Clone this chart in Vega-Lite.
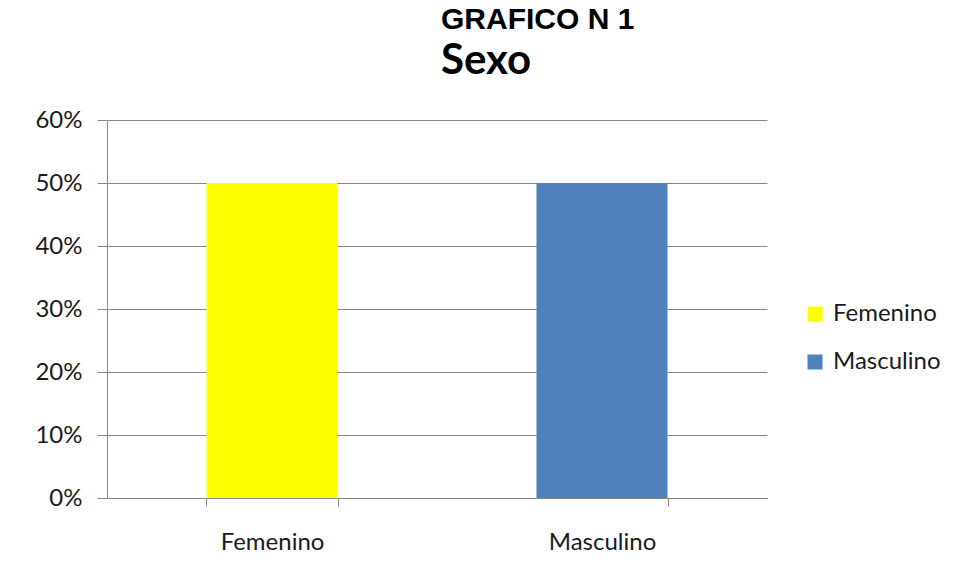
{
  "$schema": "https://vega.github.io/schema/vega-lite/v6.json",
  "width": 660,
  "height": 378,
  "autosize": {"type": "none"},
  "padding": {"left": 107, "top": 120, "right": 189, "bottom": 82},
  "background": "white",
  "title": {
    "text": "GRAFICO N 1",
    "subtitle": "Sexo",
    "anchor": "middle",
    "align": "left",
    "dx": 4,
    "offset": 26,
    "font": "Liberation Sans",
    "fontSize": 30,
    "fontWeight": "bold",
    "color": "#000000",
    "subtitleFont": "Lato",
    "subtitleFontSize": 42,
    "subtitleFontWeight": "bold",
    "subtitleColor": "#000000",
    "subtitlePadding": 6
  },
  "data": {
    "values": [
      {"sexo": "Femenino", "pct": 0.5},
      {"sexo": "Masculino", "pct": 0.5}
    ]
  },
  "mark": {"type": "bar"},
  "encoding": {
    "x": {
      "field": "sexo",
      "type": "nominal",
      "sort": ["Femenino", "Masculino"],
      "scale": {"paddingInner": 0.603, "paddingOuter": 0.3015},
      "axis": {
        "title": null,
        "labelAngle": 0,
        "labelFont": "Lato",
        "labelFontSize": 24,
        "labelColor": "#1a1a1a",
        "labelPadding": 24,
        "domainColor": "#868686",
        "tickColor": "#868686",
        "tickSize": 8,
        "tickBand": "extent",
        "grid": false
      }
    },
    "y": {
      "field": "pct",
      "type": "quantitative",
      "scale": {"domain": [0, 0.6]},
      "axis": {
        "title": null,
        "format": ".0%",
        "values": [0, 0.1, 0.2, 0.3, 0.4, 0.5, 0.6],
        "labelFont": "Lato",
        "labelFontSize": 24,
        "labelColor": "#1a1a1a",
        "labelPadding": 15,
        "domainColor": "#868686",
        "tickColor": "#868686",
        "tickSize": 10,
        "gridColor": "#868686",
        "gridOpacity": 1
      }
    },
    "color": {
      "field": "sexo",
      "type": "nominal",
      "scale": {"domain": ["Femenino", "Masculino"], "range": ["#FFFF00", "#4F81BD"]},
      "legend": {
        "title": null,
        "orient": "none",
        "legendX": 696,
        "legendY": 182,
        "symbolType": "square",
        "symbolSize": 225,
        "symbolStrokeWidth": 0,
        "labelFont": "Lato",
        "labelFontSize": 24,
        "labelColor": "#1a1a1a",
        "labelOffset": 6,
        "rowPadding": 24
      }
    }
  },
  "config": {"view": {"stroke": null}}
}
